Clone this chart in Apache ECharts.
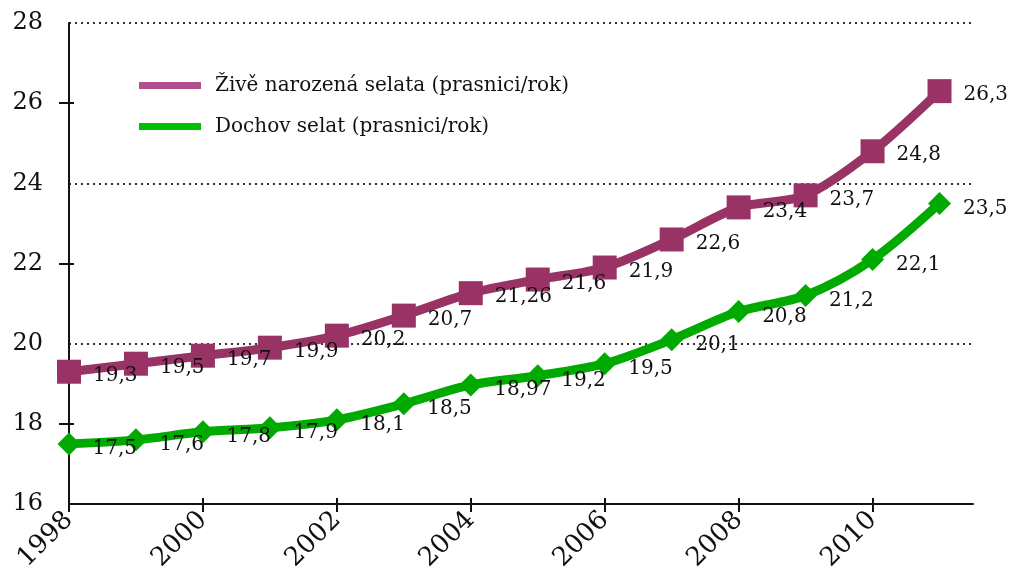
<!DOCTYPE html>
<html>
<head>
<meta charset="utf-8">
<script src="https://cdn.jsdelivr.net/npm/echarts@6/dist/echarts.min.js"></script>
<style>
  html, body { margin: 0; padding: 0; background: #fff; }
  #chart { width: 1013px; height: 570px; }
</style>
</head>
<body>
<div id="chart"></div>
<script>
// Years on the horizontal axis
const years = [1998, 1999, 2000, 2001, 2002, 2003, 2004, 2005, 2006, 2007, 2008, 2009, 2010, 2011];
// Live-born piglets per sow per year
const liveBorn = [19.3, 19.5, 19.7, 19.9, 20.2, 20.7, 21.26, 21.6, 21.9, 22.6, 23.4, 23.7, 24.8, 26.3];
// Weaned piglets per sow per year
const weaned = [17.5, 17.6, 17.8, 17.9, 18.1, 18.5, 18.97, 19.2, 19.5, 20.1, 20.8, 21.2, 22.1, 23.5];
const seriesNames = ['Živě narozená selata (prasnici/rok)', 'Dochov selat (prasnici/rok)'];
const xTickLabels = [1998, 2000, 2002, 2004, 2006, 2008, 2010];
const yTickLabels = [16, 18, 20, 22, 24, 26, 28];

const FONT = 'DejaVu Serif';
const toPairs = vals => years.map((y, i) => [y, vals[i]]);
const commaFmt = p => String(p.value[1]).replace('.', ',');

const chart = echarts.init(document.getElementById('chart'), null, { renderer: 'canvas' });

const tickStyle = { color: '#111', width: 2 };

chart.setOption({
  backgroundColor: '#ffffff',
  animation: false,
  grid: { left: 69, right: 40, top: 23, bottom: 66, containLabel: false, outerBoundsMode: 'none' },
  legend: {
    orient: 'vertical',
    left: 134,
    top: 69,
    itemWidth: 62,
    itemHeight: 7,
    itemGap: 18,
    icon: 'rect',
    textStyle: { fontFamily: FONT, fontSize: 20, color: '#111', lineHeight: 23, padding: [0, 0, 0, 9] },
    data: [
      { name: seriesNames[0], itemStyle: { color: '#b0508a' } },
      { name: seriesNames[1], itemStyle: { color: '#00c000' } }
    ]
  },
  xAxis: [
    {
      type: 'value',
      min: 1998,
      max: 2011.5,
      interval: 2,
      axisLine: { show: true, lineStyle: { color: '#111', width: 2 } },
      axisTick: { show: true, length: 8, customValues: xTickLabels, lineStyle: tickStyle },
      splitLine: { show: false },
      axisLabel: {
        rotate: 45,
        margin: 12,
        customValues: xTickLabels,
        fontFamily: FONT,
        fontSize: 26,
        color: '#111',
        formatter: v => String(v)
      }
    },
    {
      // inner half of the crossing ticks
      type: 'value',
      min: 1998,
      max: 2011.5,
      interval: 2,
      position: 'bottom',
      axisLine: { show: false },
      axisTick: { show: true, inside: true, length: 6, customValues: xTickLabels, lineStyle: tickStyle },
      axisLabel: { show: false },
      splitLine: { show: false }
    }
  ],
  yAxis: [
    {
      type: 'value',
      min: yTickLabels[0],
      max: yTickLabels[yTickLabels.length - 1],
      interval: 2,
      axisLine: { show: true, lineStyle: { color: '#111', width: 2 } },
      axisTick: { show: true, length: 10, customValues: [18, 22, 26], lineStyle: tickStyle },
      splitLine: { show: false },
      axisLabel: {
        margin: 26,
        fontFamily: FONT,
        fontSize: 24,
        color: '#111',
        customValues: yTickLabels
      }
    },
    {
      // dotted guide lines every four units
      type: 'value',
      min: 16,
      max: 28,
      interval: 4,
      position: 'left',
      axisLine: { show: false },
      axisTick: { show: false },
      axisLabel: { show: false },
      splitLine: { show: true, lineStyle: { color: '#333', width: 2, type: [2, 4] } }
    },
    {
      // inner half of the crossing ticks
      type: 'value',
      min: 16,
      max: 28,
      interval: 2,
      position: 'left',
      axisLine: { show: false },
      axisTick: { show: true, inside: true, length: 5, customValues: [18, 22, 26], lineStyle: tickStyle },
      axisLabel: { show: false },
      splitLine: { show: false }
    }
  ],
  series: [
    {
      name: seriesNames[0],
      type: 'line',
      data: toPairs(liveBorn),
      smooth: 0.3,
      symbol: 'rect',
      symbolSize: 24,
      itemStyle: { color: '#993366' },
      lineStyle: { color: '#993366', width: 9 },
      label: {
        show: true,
        position: 'right',
        distance: 12,
        offset: [0, 4],
        fontFamily: FONT,
        fontSize: 20,
        color: '#111',
        formatter: commaFmt
      },
      z: 3
    },
    {
      name: seriesNames[1],
      type: 'line',
      data: toPairs(weaned),
      smooth: 0.3,
      symbol: 'diamond',
      symbolSize: 23,
      itemStyle: { color: '#00aa00' },
      lineStyle: { color: '#00aa00', width: 9 },
      label: {
        show: true,
        position: 'right',
        distance: 12,
        offset: [0, 5],
        fontFamily: FONT,
        fontSize: 20,
        color: '#111',
        formatter: commaFmt
      },
      z: 3
    }
  ]
});
</script>
</body>
</html>
